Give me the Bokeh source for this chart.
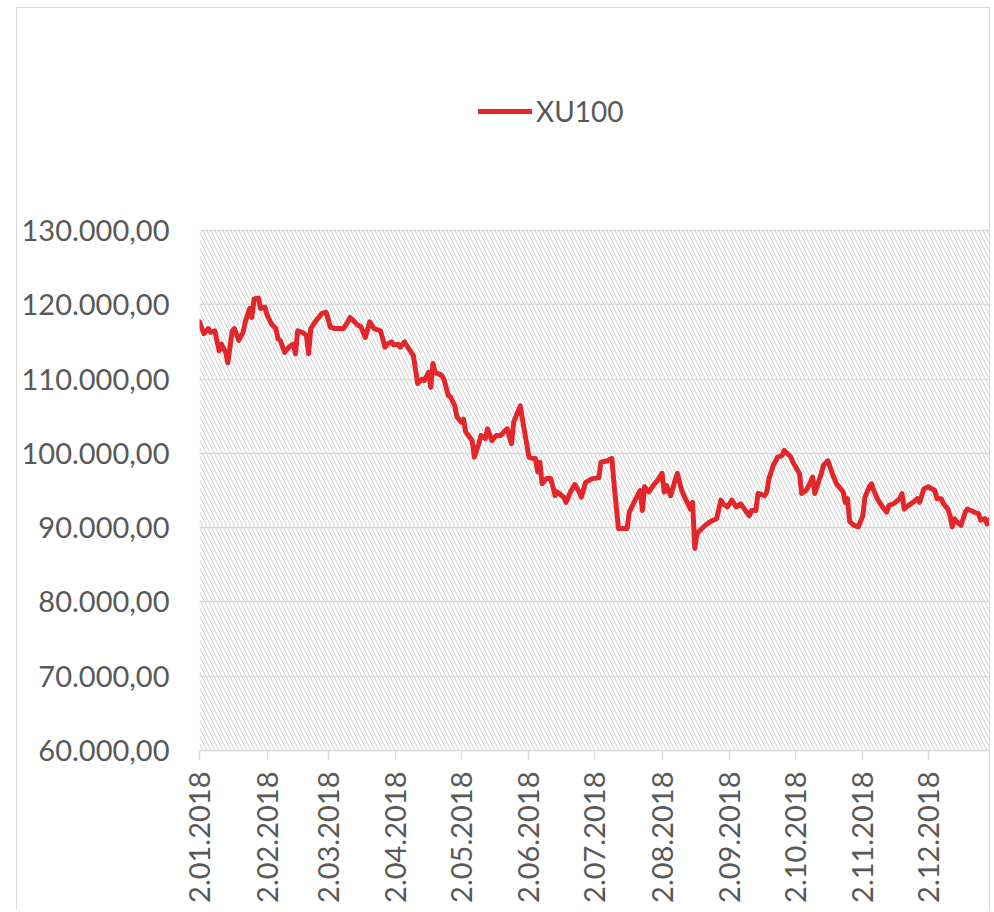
import math
import pandas as pd
from bokeh.plotting import figure
from bokeh.models import Range1d, FixedTicker, BoxAnnotation, Legend, LegendItem
from bokeh.embed import file_html
from bokeh.resources import INLINE

series_name = "XU100"

dates = [
    "2018-01-02", "2018-01-04", "2018-01-06", "2018-01-07", "2018-01-09", "2018-01-11", "2018-01-12",
    "2018-01-14", "2018-01-15", "2018-01-17", "2018-01-18", "2018-01-20", "2018-01-22", "2018-01-23",
    "2018-01-25", "2018-01-26", "2018-01-27", "2018-01-29", "2018-01-30",
    "2018-02-01", "2018-02-02", "2018-02-04", "2018-02-06", "2018-02-07", "2018-02-08", "2018-02-10",
    "2018-02-12", "2018-02-14", "2018-02-15", "2018-02-16", "2018-02-18", "2018-02-20", "2018-02-21",
    "2018-02-22", "2018-02-24", "2018-02-27",
    "2018-03-01", "2018-03-03", "2018-03-05", "2018-03-09", "2018-03-11", "2018-03-12", "2018-03-15",
    "2018-03-17", "2018-03-19", "2018-03-21", "2018-03-23", "2018-03-26", "2018-03-28", "2018-03-29",
    "2018-03-31",
    "2018-04-01", "2018-04-03", "2018-04-04", "2018-04-06", "2018-04-07", "2018-04-10", "2018-04-12",
    "2018-04-14", "2018-04-15", "2018-04-17", "2018-04-18", "2018-04-19", "2018-04-20", "2018-04-23",
    "2018-04-24", "2018-04-26", "2018-04-27", "2018-04-29", "2018-04-30",
    "2018-05-02", "2018-05-03", "2018-05-04", "2018-05-07", "2018-05-08", "2018-05-10", "2018-05-11",
    "2018-05-13", "2018-05-14", "2018-05-16", "2018-05-18", "2018-05-20", "2018-05-23", "2018-05-25",
    "2018-05-26", "2018-05-29", "2018-05-30",
    "2018-06-02", "2018-06-04", "2018-06-05", "2018-06-06", "2018-06-07", "2018-06-08", "2018-06-10",
    "2018-06-12", "2018-06-14", "2018-06-15", "2018-06-18", "2018-06-19", "2018-06-21", "2018-06-23",
    "2018-06-25", "2018-06-26", "2018-06-28",
    "2018-07-01", "2018-07-04", "2018-07-05", "2018-07-08", "2018-07-10", "2018-07-11", "2018-07-13",
    "2018-07-14", "2018-07-17", "2018-07-18", "2018-07-21", "2018-07-23", "2018-07-24", "2018-07-25",
    "2018-07-27", "2018-07-29", "2018-07-31",
    "2018-08-02", "2018-08-03", "2018-08-04", "2018-08-06", "2018-08-08", "2018-08-09", "2018-08-11",
    "2018-08-13", "2018-08-15", "2018-08-16", "2018-08-17", "2018-08-18", "2018-08-21", "2018-08-24",
    "2018-08-27", "2018-08-29", "2018-08-30",
    "2018-09-01", "2018-09-03", "2018-09-05", "2018-09-07", "2018-09-08", "2018-09-11", "2018-09-12",
    "2018-09-14", "2018-09-15", "2018-09-18", "2018-09-19", "2018-09-20", "2018-09-22", "2018-09-24",
    "2018-09-26", "2018-09-27", "2018-09-30",
    "2018-10-01", "2018-10-04", "2018-10-05", "2018-10-07", "2018-10-09", "2018-10-10", "2018-10-11",
    "2018-10-12", "2018-10-14", "2018-10-15", "2018-10-17", "2018-10-19", "2018-10-21", "2018-10-24",
    "2018-10-25", "2018-10-26", "2018-10-27", "2018-10-29", "2018-10-31",
    "2018-11-02", "2018-11-03", "2018-11-05", "2018-11-06", "2018-11-07", "2018-11-09", "2018-11-11",
    "2018-11-13", "2018-11-14", "2018-11-16", "2018-11-19", "2018-11-20", "2018-11-21", "2018-11-23",
    "2018-11-25", "2018-11-27", "2018-11-28", "2018-11-30",
    "2018-12-02", "2018-12-05", "2018-12-06", "2018-12-08", "2018-12-09", "2018-12-11", "2018-12-12",
    "2018-12-13", "2018-12-14", "2018-12-15", "2018-12-17", "2018-12-19", "2018-12-20", "2018-12-23",
    "2018-12-25", "2018-12-26", "2018-12-28", "2018-12-29", "2018-12-31",
]

values = [
    117700, 116100, 116800, 116300, 116500, 113800, 114700,
    113600, 112200, 116500, 116800, 115200, 116300, 117700,
    119500, 118300, 120800, 120900, 119500,
    119700, 118600, 117400, 116800, 115400, 115200, 113600,
    114300, 114700, 113400, 116500, 116300, 115900, 113400,
    116800, 117700, 118800,
    119000, 117000, 116800, 116800, 117700, 118300, 117400,
    117000, 115600, 117700, 116800, 116500, 114300, 114700,
    115000,
    114600, 114700, 114300, 115000, 114500, 113200, 109400,
    110000, 109800, 110900, 108900, 112100, 110900, 110500,
    110000, 107800, 107600, 106400, 104900,
    104200, 104600, 102900, 101700, 99500, 101300, 102400,
    102000, 103300, 101700, 102400, 102400, 103300, 101300,
    104200, 106400, 104600,
    99500, 99300, 99300, 97500, 98800, 95900, 96600,
    96600, 94300, 94800, 94100, 93400, 94800, 95800,
    94800, 94100, 96100,
    96600, 96700, 98800, 99000, 99300, 95900, 89900,
    89900, 89900, 92100, 93900, 95000, 92300, 95500,
    94800, 95700, 96400,
    97300, 94800, 95700, 94300, 96400, 97300, 95000,
    93700, 92500, 93400, 87200, 89200, 90100, 90800,
    91200, 93700, 93200,
    92800, 93700, 92800, 93200, 92800, 91600, 92300,
    92300, 94600, 94300, 94800, 96600, 98400, 99500,
    99700, 100400, 99500,
    98800, 97300, 94600, 95000, 96100, 96800, 94600,
    95500, 97300, 98400, 99000, 97300, 95900, 94800,
    93400, 93900, 90800, 90300, 90100,
    91600, 94100, 95500, 95900, 95000, 93700, 92800,
    92100, 93000, 93200, 93900, 94600, 92500, 93000,
    93400, 93900, 93400, 95200,
    95500, 95000, 93900, 93900, 93200, 92500, 91600,
    90100, 91200, 90800, 90300, 92100, 92500, 92100,
    91900, 91000, 91200, 90500, 91400,
]

y_ticks = [60000, 70000, 80000, 90000, 100000, 110000, 120000, 130000]
y_tick_labels = ["60.000,00", "70.000,00", "80.000,00", "90.000,00",
                 "100.000,00", "110.000,00", "120.000,00", "130.000,00"]

x_tick_dates = ["2018-01-02", "2018-02-02", "2018-03-02", "2018-04-02", "2018-05-02", "2018-06-02",
                "2018-07-02", "2018-08-02", "2018-09-02", "2018-10-02", "2018-11-02", "2018-12-02"]
x_tick_labels = ["2.01.2018", "2.02.2018", "2.03.2018", "2.04.2018", "2.05.2018", "2.06.2018",
                 "2.07.2018", "2.08.2018", "2.09.2018", "2.10.2018", "2.11.2018", "2.12.2018"]

x_start, x_end = "2018-01-02", "2018-12-31"


def to_ms(d):
    return int(pd.Timestamp(d).timestamp() * 1000)


FONT = "Lato"
TEXT = "#595959"
GRID = "#d9d9d9"
RED = "#e3262a"

# Layout (pixels): the frame extends above the 130.000 line to leave room for the legend,
# but the hatched plot area is limited to the value axis range.
FIG_W = 974
FIG_H = 903
LEFT_PX = 182
FRAME_TOP_PX = 52      # from top of figure content
AXIS_TOP_PX = 222      # where 130.000 sits
FRAME_H = 690
axis_h = FRAME_H - (AXIS_TOP_PX - FRAME_TOP_PX)
y_end = y_ticks[0] + (y_ticks[-1] - y_ticks[0]) * FRAME_H / axis_h

p = figure(
    width=FIG_W, height=FIG_H,
    x_axis_type="datetime",
    output_backend="svg",
    toolbar_location=None,
    min_border_left=LEFT_PX, min_border_right=0,
    min_border_top=FRAME_TOP_PX, min_border_bottom=FIG_H - FRAME_TOP_PX - FRAME_H,
    x_range=Range1d(to_ms(x_start), to_ms(x_end)),
    y_range=Range1d(y_ticks[0], y_end),
)
p.styles = {
    "margin-left": "16px",
    "margin-top": "7px",
    "border-top": "1px solid #d9d9d9",
    "border-left": "1px solid #d9d9d9",
    "border-right": "1px solid #d9d9d9",
}
p.outline_line_color = None
p.background_fill_color = "white"
p.border_fill_color = "white"

# hatched plot-area background
bg = BoxAnnotation(bottom=y_ticks[0], top=y_ticks[-1],
                   fill_color="white", fill_alpha=1.0, line_color=None,
                   hatch_pattern="left_diagonal_line", hatch_color="#d2d2d2",
                   hatch_scale=8, hatch_weight=1.0, hatch_alpha=1.0, level="image")
p.add_layout(bg)

# grid
p.xgrid.visible = False
p.ygrid.grid_line_color = GRID
p.ygrid.grid_line_width = 1.5

# y axis
p.yaxis.ticker = FixedTicker(ticks=y_ticks)
p.yaxis.major_label_overrides = {t: l for t, l in zip(y_ticks, y_tick_labels)}
p.yaxis.axis_line_color = None
p.yaxis.major_tick_line_color = None
p.yaxis.minor_tick_line_color = None
p.yaxis.major_tick_out = 0
p.yaxis.major_tick_in = 0
p.yaxis.major_label_standoff = 30
p.yaxis.major_label_text_font = FONT
p.yaxis.major_label_text_font_size = "29px"
p.yaxis.major_label_text_color = TEXT

# x axis
x_ticks_ms = [to_ms(d) for d in x_tick_dates]
p.xaxis.ticker = FixedTicker(ticks=x_ticks_ms)
p.xaxis.major_label_overrides = {t: l for t, l in zip(x_ticks_ms, x_tick_labels)}
p.xaxis.major_label_orientation = math.pi / 2
p.xaxis.axis_line_color = GRID
p.xaxis.axis_line_width = 1.5
p.xaxis.major_tick_line_color = GRID
p.xaxis.major_tick_line_width = 1.5
p.xaxis.major_tick_out = 9
p.xaxis.major_tick_in = 0
p.xaxis.minor_tick_line_color = None
p.xaxis.major_label_standoff = 12
p.xaxis.major_label_text_font = FONT
p.xaxis.major_label_text_font_size = "29px"
p.xaxis.major_label_text_color = TEXT

# series
r = p.line(x=pd.to_datetime(dates), y=values, line_color=RED, line_width=5,
           line_join="round", line_cap="round")

legend = Legend(items=[LegendItem(label=series_name, renderers=[r])],
                location=(279, 622), orientation="horizontal",
                padding=0, margin=0, border_line_color=None,
                background_fill_alpha=0.0,
                glyph_width=54, glyph_height=20, label_standoff=4,
                label_text_font=FONT, label_text_font_size="28px",
                label_text_color=TEXT)
p.add_layout(legend)

open("out.html", "w").write(file_html(p, INLINE))
